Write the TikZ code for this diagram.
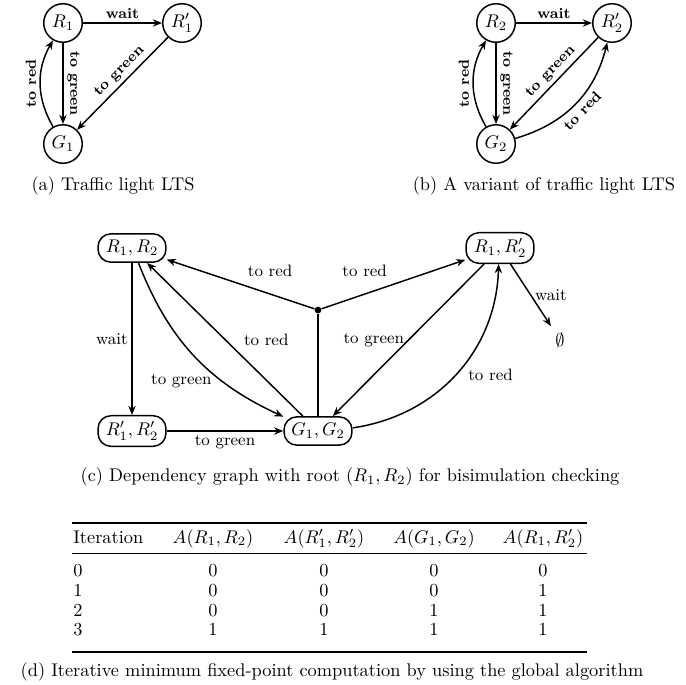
\documentclass[tikz,border=0pt]{standalone}
\usepackage{amsmath}
\usepackage{amssymb}
\usepackage{tikz}
\usetikzlibrary{arrows.meta, positioning, calc}

\begin{document}
\begin{tikzpicture}[
  x=0.545pt, y=0.545pt,
  lts/.style={circle, draw, thick, minimum size=21pt, inner sep=0pt},
  pair/.style={rectangle, rounded corners=7pt, draw, thick, minimum width=37pt, minimum height=14.5pt, inner xsep=3pt},
  arr/.style={-{Stealth[length=5pt, width=4pt]}, thick},
  bl/.style={font=\footnotesize\bfseries, inner sep=2pt},
  el/.style={font=\small, inner sep=2pt},
  cell/.style={inner sep=0pt, anchor=base}
]
\useasboundingbox (0,0) rectangle (685,-685);

% (a) traffic light
\node[lts] (r1) at (63,-23) {$R_1$};
\node[lts] (r1p) at (182,-23) {$R'_1$};
\node[lts] (g1) at (63,-144) {$G_1$};
\draw[arr] (r1) -- node[bl, above] {wait} (r1p);
\draw[arr] (r1) -- node[bl, rotate=-90, anchor=south] {to green} (g1);
\draw[arr] (g1) to[bend left=30] node[bl, sloped, above] {to red} (r1);
\draw[arr] (r1p) -- node[bl, pos=0.45, sloped, above] {to green} (g1);
\node (capa) at (113,-186) {(a) Traffic light LTS};

% (b) variant
\node[lts] (r2) at (496,-23) {$R_2$};
\node[lts] (r2p) at (612,-23) {$R'_2$};
\node[lts] (g2) at (496,-144) {$G_2$};
\draw[arr] (r2) -- node[bl, above] {wait} (r2p);
\draw[arr] (r2) -- node[bl, rotate=-90, anchor=south] {to green} (g2);
\draw[arr] (g2) to[bend left=30] node[bl, sloped, above] {to red} (r2);
\draw[arr] (r2p) -- node[bl, pos=0.45, sloped, above] {to green} (g2);
\draw[arr] (g2) to[bend right=30] node[bl, sloped, below] {to red} (r2p);
\node (capb) at (544,-186) {(b) A variant of traffic light LTS};

% (c) dependency graph
\node[pair] (rr) at (132,-248) {$R_1, R_2$};
\node[pair] (rp) at (500,-248) {$R_1, R'_2$};
\node[pair] (pp) at (132,-431) {$R'_1, R'_2$};
\node[pair] (gg) at (318,-431) {$G_1, G_2$};
\node[circle, fill, inner sep=1.3pt] (hd) at (318,-310) {};
\node (em) at (560,-340) {$\emptyset$};

\draw[arr] (rr) -- node[el, left] {wait} (pp);
\draw[arr] (pp) -- node[el, below] {to green} (gg);
\draw[arr] (rr) to[bend right=22] node[el, pos=0.6, below left=0pt and -4pt] {to green} (gg);
\draw[arr] (gg) -- node[el, right=8pt] {to red} (rr);
\draw[thick] (gg) -- (hd);
\draw[arr] (hd) -- node[el, pos=0.3, above=7pt] {to red} (rr);
\draw[arr] (hd) -- node[el, pos=0.3, above=7pt] {to red} (rp);
\draw[arr] (rp) -- node[el, left] {to green} (gg);
\draw[arr] (gg) to[bend right=40] node[el, pos=0.55, below right] {to red} (rp);
\draw[arr] (rp) -- node[el, right] {wait} (em);
\node (capc) at (350,-477) {(c) Dependency graph with root $(R_1, R_2)$ for bisimulation checking};

% (d) fixed-point table
\draw[line width=0.8pt] (72,-523) -- (587,-523);
\draw[line width=0.5pt] (72,-553) -- (587,-553);
\draw[line width=0.8pt] (72,-652) -- (587,-652);
\node[cell, anchor=base west] (h0) at (73,-543) {Iteration};
\node[cell] (h1) at (213,-543) {$A(R_1, R_2)$};
\node[cell] (h2) at (324,-543) {$A(R'_1, R'_2)$};
\node[cell] (h3) at (434,-543) {$A(G_1, G_2)$};
\node[cell] (h4) at (543,-543) {$A(R_1, R'_2)$};
\foreach \i/\y/\a/\b/\c/\d in {0/576/0/0/0/0, 1/596/0/0/0/1, 2/616/0/0/1/1, 3/635/1/1/1/1}{
  \node[cell, anchor=base west] (it\i) at (73,-\y) {\i};
  \node[cell] (a\i) at (213,-\y) {\a};
  \node[cell] (b\i) at (324,-\y) {\b};
  \node[cell] (c\i) at (434,-\y) {\c};
  \node[cell] (d\i) at (543,-\y) {\d};
}
\node (capd) at (332,-672) {(d) Iterative minimum fixed-point computation by using the global algorithm};

\end{tikzpicture}
\end{document}
